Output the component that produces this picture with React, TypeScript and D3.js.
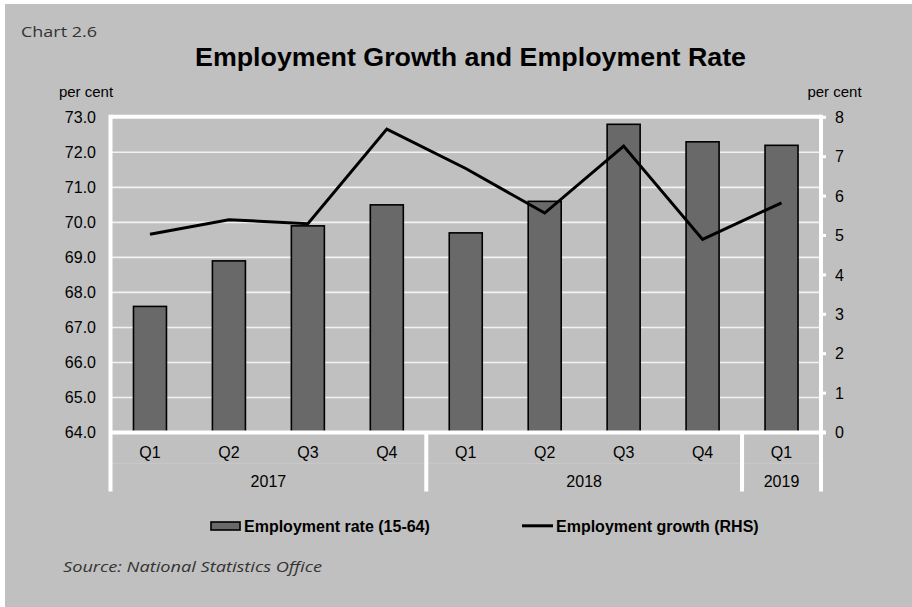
import React from "react";
import * as d3 from "d3";

const quarters = ["Q1", "Q2", "Q3", "Q4", "Q1", "Q2", "Q3", "Q4", "Q1"];
const years = ["2017", "2018", "2019"];
const yearSpans = [4, 4, 1];
const employmentRate = [67.6, 68.9, 69.9, 70.5, 69.7, 70.6, 72.8, 72.3, 72.2];
const employmentGrowth = [5.03, 5.4, 5.3, 7.7, 6.7, 5.57, 7.27, 4.9, 5.83];
const leftTicks = [64, 65, 66, 67, 68, 69, 70, 71, 72, 73];
const rightTicks = [0, 1, 2, 3, 4, 5, 6, 7, 8];

const W = 912;
const H = 607;
const plotL = 110.5;
const plotR = 821;
const plotT = 117.3;
const plotB = 432.5;

export default function App() {
  const x = d3
    .scaleBand<number>()
    .domain(d3.range(quarters.length))
    .range([plotL, plotR])
    .paddingInner(0)
    .paddingOuter(0);
  const yL = d3.scaleLinear().domain([64, 73]).range([plotB, plotT]);
  const yR = d3.scaleLinear().domain([0, 8]).range([plotB, plotT]);
  const barW = 33;
  const cx = (i: number) => (x(i) as number) + x.bandwidth() / 2;

  const line = d3
    .line<number>()
    .x((_, i) => cx(i))
    .y((d) => yR(d));

  const arial = "'Liberation Sans', Arial, sans-serif";
  const sepIdx: number[] = [0];
  yearSpans.reduce((acc, s) => {
    sepIdx.push(acc + s);
    return acc + s;
  }, 0);

  return (
    <svg
      width={W}
      height={H}
      style={{ position: "absolute", left: 0, top: 0, display: "block" }}
    >
      <rect x={0} y={0} width={W} height={H} fill="#ffffff" />
      <rect x={5} y={4} width={W - 5} height={H - 4} fill="#c0c0c0" />

      <text
        x={21}
        y={37}
        fontFamily="'Open Sans', 'Noto Sans', sans-serif"
        fontSize={14}
        fill="#333"
        textLength={76}
        lengthAdjust="spacingAndGlyphs"
      >
        Chart 2.6
      </text>
      <text
        x={470.5}
        y={66}
        textAnchor="middle"
        fontFamily={arial}
        fontWeight="bold"
        fontSize={25}
        fill="#000"
        textLength={551}
        lengthAdjust="spacingAndGlyphs"
      >
        Employment Growth and Employment Rate
      </text>

      <text x={86} y={97} textAnchor="middle" fontFamily={arial} fontSize={15} fill="#000">
        per cent
      </text>
      <text x={834.5} y={97} textAnchor="middle" fontFamily={arial} fontSize={15} fill="#000">
        per cent
      </text>

      {/* gridlines */}
      {leftTicks.map((t) => (
        <line
          key={"g" + t}
          x1={plotL}
          x2={plotR}
          y1={yL(t)}
          y2={yL(t)}
          stroke="#f2f2f2"
          strokeWidth={1.6}
        />
      ))}

      {/* left tick labels */}
      {leftTicks.map((t) => (
        <text
          key={"lt" + t}
          x={96}
          y={yL(t)}
          dy="0.36em"
          textAnchor="end"
          fontFamily={arial}
          fontSize={16}
          fill="#000"
        >
          {t.toFixed(1)}
        </text>
      ))}

      {/* right ticks */}
      {rightTicks.map((t) => (
        <g key={"rt" + t}>
          <line x1={plotR} x2={plotR + 5} y1={yR(t)} y2={yR(t)} stroke="#ffffff" strokeWidth={3} />
          <text
            x={835}
            y={yR(t)}
            dy="0.36em"
            textAnchor="start"
            fontFamily={arial}
            fontSize={16}
            fill="#000"
          >
            {t}
          </text>
        </g>
      ))}

      {/* bars */}
      {employmentRate.map((v, i) => (
        <rect
          key={"b" + i}
          x={cx(i) - barW / 2}
          y={yL(v)}
          width={barW}
          height={plotB - yL(v)}
          fill="#696969"
          stroke="#000"
          strokeWidth={1.6}
        />
      ))}

      {/* frame */}
      <line x1={plotL} x2={plotR} y1={plotT - 0.5} y2={plotT - 0.5} stroke="#fff" strokeWidth={4} />
      <line x1={plotL} x2={plotL} y1={plotT - 2.5} y2={491.5} stroke="#fff" strokeWidth={4} />
      <line x1={plotR} x2={plotR} y1={plotT - 2.5} y2={491.5} stroke="#fff" strokeWidth={4} />
      <line x1={plotL} x2={plotR + 5} y1={plotB} y2={plotB} stroke="#fff" strokeWidth={4} />

      {/* category separators */}
      {sepIdx.slice(1, -1).map((k) => (
        <line
          key={"s" + k}
          x1={x(k) as number}
          x2={x(k) as number}
          y1={plotB}
          y2={491.5}
          stroke="#fff"
          strokeWidth={4}
        />
      ))}
      <line x1={plotL} x2={plotR} y1={463.3} y2={463.3} stroke="#fff" strokeOpacity={0.15} strokeWidth={1} />

      {/* growth line */}
      <path
        d={line(employmentGrowth) || ""}
        fill="none"
        stroke="#000"
        strokeWidth={3}
        strokeLinejoin="miter"
      />

      {/* category labels */}
      {quarters.map((q, i) => (
        <text
          key={"q" + i}
          x={cx(i)}
          y={458}
          textAnchor="middle"
          fontFamily={arial}
          fontSize={16}
          fill="#000"
        >
          {q}
        </text>
      ))}
      {years.map((yr, k) => {
        const a = x(sepIdx[k]) as number;
        const b = k + 1 < sepIdx.length - 1 ? (x(sepIdx[k + 1]) as number) : plotR;
        return (
          <text
            key={"y" + yr}
            x={(a + b) / 2}
            y={487}
            textAnchor="middle"
            fontFamily={arial}
            fontSize={16}
            fill="#000"
          >
            {yr}
          </text>
        );
      })}

      {/* legend */}
      <rect x={211} y={522} width={29} height={8} fill="#696969" stroke="#000" strokeWidth={1.6} />
      <text x={244} y={532} fontFamily={arial} fontWeight="bold" fontSize={16} fill="#000">
        Employment rate (15-64)
      </text>
      <line x1={522} x2={553} y1={525.8} y2={525.8} stroke="#000" strokeWidth={3} />
      <text x={556} y={532} fontFamily={arial} fontWeight="bold" fontSize={16} fill="#000">
        Employment growth (RHS)
      </text>

      <text
        x={63}
        y={572}
        fontFamily="'Open Sans', 'Noto Sans', sans-serif"
        fontStyle="italic"
        fontSize={14}
        fill="#333"
        textLength={259}
        lengthAdjust="spacingAndGlyphs"
      >
        Source: National Statistics Office
      </text>
    </svg>
  );
}
